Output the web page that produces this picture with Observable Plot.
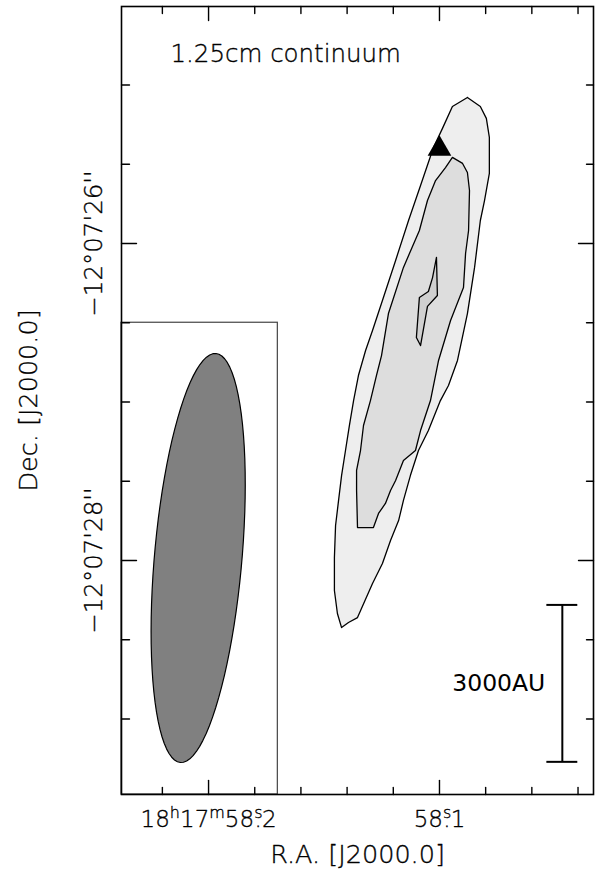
<!DOCTYPE html>
<html><head><meta charset="utf-8">
<script src="https://cdn.jsdelivr.net/npm/d3@7"></script>
<script src="https://cdn.jsdelivr.net/npm/@observablehq/plot@0.6"></script>
<style>body{margin:0;background:#fff;}</style>
</head><body><div id="chart"></div>
<script>
// Axes (RA in seconds of 18h17m, Dec in arcsec of -12°07')
const raDomain = [58.2377, 58.0333];
const decDomain = [29.476, 24.505];
const raMajorTicks = [58.2, 58.1];
const raMinorTicks = [58.22, 58.18, 58.16, 58.14, 58.12, 58.08, 58.06, 58.04];
const decMajorTicks = [26, 28];
const decMinorTicks = [25, 25.5, 26.5, 27, 27.5, 28.5, 29];
const raTickLabels = [{h: "18", m: "17", s: "58", frac: "2"}, {s: "58", frac: "1"}];
const decTickLabels = ["\u221212\u00b007'26''", "\u221212\u00b007'28''"];

// Contours (RA s, Dec arcsec)
const outerContour = [
  [58.0879,25.079],[58.0823,25.136],[58.0797,25.211],[58.0784,25.331],[58.0784,25.558],
  [58.0805,25.729],[58.0823,25.855],[58.0848,26.151],[58.0879,26.442],[58.0922,26.738],
  [58.0961,26.896],[58.0996,26.991],[58.1048,27.180],[58.1091,27.306],[58.1126,27.464],
  [58.1156,27.621],[58.1177,27.748],[58.1212,27.874],[58.1247,28.019],[58.1290,28.145],
  [58.1355,28.360],[58.1394,28.391],[58.1424,28.423],[58.1442,28.334],[58.1455,28.189],
  [58.1455,27.981],[58.1450,27.779],[58.1437,27.621],[58.1424,27.464],[58.1407,27.306],
  [58.1390,27.148],[58.1372,26.991],[58.1351,26.833],[58.1320,26.675],[58.1290,26.549],
  [58.1247,26.360],[58.1190,26.107],[58.1134,25.855],[58.1082,25.634],[58.1026,25.394],
  [58.0987,25.274],[58.0944,25.136]
];
const middleContour = [
  [58.0944,25.457],[58.0900,25.495],[58.0879,25.552],[58.0870,25.666],[58.0874,25.918],
  [58.0887,26.063],[58.0896,26.278],[58.0952,26.486],[58.0965,26.549],[58.1004,26.738],
  [58.1039,26.991],[58.1082,27.180],[58.1104,27.306],[58.1156,27.369],[58.1190,27.495],
  [58.1212,27.558],[58.1234,27.640],[58.1264,27.703],[58.1286,27.792],[58.1355,27.792],
  [58.1359,27.558],[58.1359,27.432],[58.1342,27.306],[58.1329,27.148],[58.1299,26.991],
  [58.1273,26.833],[58.1251,26.707],[58.1221,26.442],[58.1156,26.151],[58.1087,25.918],
  [58.1052,25.729],[58.1017,25.603],[58.0974,25.521]
];
const innerContour = [
  [58.1013,26.088],[58.1009,26.328],[58.1052,26.397],[58.1082,26.644],
  [58.1100,26.593],[58.1087,26.341],[58.1048,26.303],[58.1030,26.215]
];
const sourceMarker = [{ra: 58.1, dec: 25.404}];

// Beam (FWHM arcsec, PA deg) and its box
const beam = {ra: 58.2045, dec: 27.984, major: 2.59, minor: 0.556, pa: -5};
const beamBox = [{ra1: 58.2377, ra2: 58.17, dec1: 26.5, dec2: 29.476}];

// Scale bar
const scaleBar = {ra: 58.0468, dec1: 28.28, dec2: 29.27, capHalf: 0.0067, label: "3000AU"};
const panelLabel = {ra: 58.2165, dec: 24.808, text: "1.25cm continuum"};

const closed = a => [...a, a[0]];
const cosDec = Math.cos((12 + 7.5/60) * Math.PI / 180);
const beamPts = d3.range(0, 361, 4).map(t => {
  const r = t * Math.PI / 180, p = beam.pa * Math.PI / 180;
  const a = beam.major / 2, b = beam.minor / 2;
  const e = a * Math.cos(r) * Math.sin(p) + b * Math.sin(r) * Math.cos(p);
  const n = a * Math.cos(r) * Math.cos(p) - b * Math.sin(r) * Math.sin(p);
  return [beam.ra + e / (15 * cosDec), beam.dec - n];
});

const tickShape = {draw(ctx, l) { ctx.moveTo(0, 0); ctx.lineTo(0, -l); }};
const tw = 1.4;
const ticks = (data, ch, anchor, rot, len) => Plot.vector(data, {
  [ch]: d => d, frameAnchor: anchor, length: len, rotate: rot, anchor: "start",
  shape: tickShape, stroke: "black", strokeWidth: tw
});
const thinText = {fontWeight: 300, fill: "black", stroke: "black", strokeWidth: 0.35};

const chart = Plot.plot({
  width: 595, height: 878,
  marginLeft: 121, marginRight: 2, marginTop: 6, marginBottom: 84,
  style: {fontFamily: "DejaVu Sans", background: "white", color: "black"},
  x: {domain: raDomain, axis: null},
  y: {domain: decDomain, axis: null},
  marks: [
    Plot.rect(beamBox, {x1: "ra1", x2: "ra2", y1: "dec1", y2: "dec2", fill: "none", stroke: "#444", strokeWidth: 1.2}),
    Plot.line(closed(outerContour), {x: d => d[0], y: d => d[1], fill: "#eeeeee", stroke: "black", strokeWidth: 1.3}),
    Plot.line(closed(middleContour), {x: d => d[0], y: d => d[1], fill: "#dddddd", stroke: "black", strokeWidth: 1.3}),
    Plot.line(closed(innerContour), {x: d => d[0], y: d => d[1], fill: "#d0d0d0", stroke: "black", strokeWidth: 1.3}),
    Plot.dot(sourceMarker, {x: "ra", y: "dec", symbol: "triangle", r: 8.8, fill: "black", stroke: "none"}),
    Plot.line(beamPts, {x: d => d[0], y: d => d[1], fill: "#808080", stroke: "black", strokeWidth: 1.2}),
    Plot.ruleX([scaleBar], {x: "ra", y1: "dec1", y2: "dec2", strokeWidth: 2}),
    Plot.ruleY([scaleBar.dec1, scaleBar.dec2], {y: d => d, x1: scaleBar.ra + scaleBar.capHalf, x2: scaleBar.ra - scaleBar.capHalf, strokeWidth: 2}),
    Plot.text([scaleBar], {x: "ra", y: d => (d.dec1 + d.dec2) / 2, text: "label", textAnchor: "end", dx: -17, fontSize: 23.5, fill: "black"}),
    Plot.text([panelLabel], {x: "ra", y: "dec", text: "text", textAnchor: "start", fontSize: 24.5, ...thinText}),
    // tick labels
    Plot.text(raMajorTicks, {x: d => d, frameAnchor: "bottom", dy: 32.6, text: (d, i) => "L" + i, fontSize: 23, ...thinText, className: "ralab"}),
    Plot.text(decMajorTicks, {y: d => d, frameAnchor: "left", dx: -27, rotate: -90, textAnchor: "middle", text: (d, i) => decTickLabels[i], fontSize: 24.5, ...thinText}),
    Plot.text(["R.A. [J2000.0]"], {frameAnchor: "bottom", dy: 68, text: d => d, fontSize: 25.5, ...thinText}),
    Plot.text(["Dec. [J2000.0]"], {frameAnchor: "left", dx: -93, rotate: -90, textAnchor: "middle", text: d => d, fontSize: 25.5, ...thinText}),
    // inward ticks
    ticks(raMinorTicks, "x", "bottom", 0, 7),
    ticks(raMajorTicks, "x", "bottom", 0, 14),
    ticks(raMinorTicks, "x", "top", 180, 7),
    ticks(raMajorTicks, "x", "top", 180, 14),
    ticks(decMinorTicks, "y", "left", 90, 8),
    ticks(decMajorTicks, "y", "left", 90, 15),
    ticks(decMinorTicks, "y", "right", -90, 7),
    ticks(decMajorTicks, "y", "right", -90, 15),
    Plot.frame({stroke: "black", strokeWidth: 1.6})
  ]
});
document.getElementById("chart").appendChild(chart);

// Build sexagesimal RA labels with superscripts
const NS = "http://www.w3.org/2000/svg";
d3.select(chart).selectAll(".ralab text").each(function(_, i) {
  const lab = raTickLabels[i];
  const el = this;
  el.textContent = "";
  const add = (t, attrs = {}) => {
    const ts = document.createElementNS(NS, "tspan");
    ts.textContent = t;
    for (const k in attrs) ts.setAttribute(k, attrs[k]);
    el.appendChild(ts);
  };
  const sup = {dy: -9, "font-size": 16};
  if (lab.h) {
    add(lab.h); add("h", sup); add(lab.m, {dy: 9}); add("m", sup); add(lab.s, {dy: 9});
  } else {
    add(lab.s);
  }
  add("s", sup);
  add(".", {dy: 9, dx: -7.9});
  add(lab.frac);
});
</script>
</body></html>
